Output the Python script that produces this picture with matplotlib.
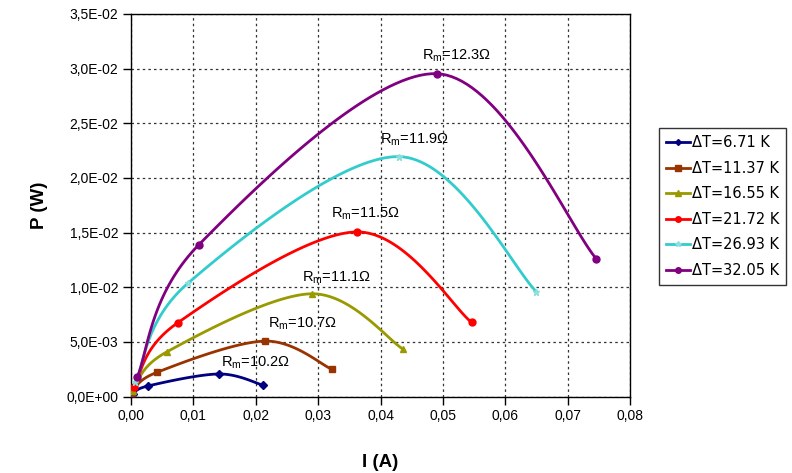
import numpy as np
import matplotlib
matplotlib.use("Agg")
import matplotlib.pyplot as plt
from matplotlib.ticker import FixedLocator

plt.rcParams['font.family'] = ['Liberation Sans', 'DejaVu Sans']

# Measured current I (A) and power P (W) for each temperature difference
I_671 = [0.0003, 0.0027, 0.0141, 0.0211]
P_671 = [0.00020, 0.00096, 0.00206, 0.00105]
I_1137 = [0.0001, 0.0042, 0.0215, 0.0322]
P_1137 = [0.00035, 0.00222, 0.00507, 0.00249]
I_1655 = [0.0003, 0.0058, 0.0290, 0.0436]
P_1655 = [0.00050, 0.00410, 0.00940, 0.00434]
I_2172 = [0.0005, 0.0075, 0.0363, 0.0546]
P_2172 = [0.00090, 0.00675, 0.01506, 0.00678]
I_2693 = [0.0007, 0.0092, 0.0430, 0.0650]
P_2693 = [0.00130, 0.01040, 0.02195, 0.00958]
I_3205 = [0.0010, 0.0109, 0.0490, 0.0746]
P_3205 = [0.00180, 0.01390, 0.02954, 0.01260]

series_labels = ["ΔT=6.71 K", "ΔT=11.37 K", "ΔT=16.55 K",
                 "ΔT=21.72 K", "ΔT=26.93 K", "ΔT=32.05 K"]
rm_labels = ["10.2", "10.7", "11.1", "11.5", "11.9", "12.3"]

x_ticks = [0.00, 0.01, 0.02, 0.03, 0.04, 0.05, 0.06, 0.07, 0.08]
x_tick_labels = ["0,00", "0,01", "0,02", "0,03", "0,04", "0,05", "0,06", "0,07", "0,08"]
y_ticks = [0.0, 0.005, 0.010, 0.015, 0.020, 0.025, 0.030, 0.035]
y_tick_labels = ["0,0E+00", "5,0E-03", "1,0E-02", "1,5E-02",
                 "2,0E-02", "2,5E-02", "3,0E-02", "3,5E-02"]

colors = ["#000080", "#993300", "#999900", "#FF0000", "#33CCCC", "#800080"]
markers = ["D", "s", "^", "o", "*", "o"]
msizes = [4, 5, 5, 5, 5, 5]


def smooth_curve(xs, ys, n=40):
    """Bezier smoothing through the points (cardinal spline, 1/6 tangents)."""
    p = np.column_stack([xs, ys]).astype(float)
    ext = np.vstack([p[0], p, p[-1]])
    out = []
    t = np.linspace(0, 1, n)[:, None]
    for i in range(len(p) - 1):
        p0, p1 = ext[i + 1], ext[i + 2]
        c1 = p0 + (ext[i + 2] - ext[i]) / 6.0
        c2 = p1 - (ext[i + 3] - ext[i + 1]) / 6.0
        seg = ((1 - t) ** 3) * p0 + 3 * ((1 - t) ** 2) * t * c1 \
            + 3 * (1 - t) * t ** 2 * c2 + t ** 3 * p1
        out.append(seg if i == 0 else seg[1:])
    c = np.vstack(out)
    return c[:, 0], c[:, 1]


fig = plt.figure(figsize=(7.92, 4.73), dpi=100)
ax = fig.add_axes([131 / 792, (473 - 396.5) / 473, (630 - 131) / 792, (396.5 - 14) / 473])

data = [(I_671, P_671), (I_1137, P_1137), (I_1655, P_1655),
        (I_2172, P_2172), (I_2693, P_2693), (I_3205, P_3205)]

handles = []
for (xs, ys), col, mk, ms, lab in zip(data, colors, markers, msizes, series_labels):
    sx, sy = smooth_curve(xs, ys)
    ax.plot(sx, sy, color=col, lw=2, solid_capstyle='round', zorder=3)
    if mk == "*":
        mfc, mec = "#99E6E6", "#88DDDD"
    else:
        mfc, mec = col, col
    ax.plot(xs, ys, ls='none', marker=mk, ms=ms, mfc=mfc, mec=mec, zorder=4)
    h, = ax.plot([], [], color=col, lw=2, marker=mk, ms=ms - 1, mfc=mfc, mec=mec)
    handles.append(h)

# Load resistance at the maximum-power point of each curve
rm_pos = [(256, 363), (303, 324), (337, 278), (366, 213), (415, 139), (457, 55)]
for (px, py), val in zip(rm_pos, rm_labels):
    xd = (px - 131) / 62.4 * 0.01
    yd = (396.5 - py) / 54.7 * 0.005
    ax.text(xd, yd, "R$_{\\mathregular{m}}$=" + val + "Ω", fontsize=10.5,
            ha='center', va='center', zorder=5)

ax.set_xlim(0, 0.08)
ax.set_ylim(0, 0.035)
ax.xaxis.set_major_locator(FixedLocator(x_ticks))
ax.yaxis.set_major_locator(FixedLocator(y_ticks))
ax.set_xticklabels(x_tick_labels, fontsize=10)
ax.set_yticklabels(y_tick_labels, fontsize=10)
ax.tick_params(direction='out', length=6, width=1, color='black', pad=3)

ax.grid(True, color='#333333', linestyle=(0, (2, 2.5)), linewidth=0.9, zorder=1)
ax.set_axisbelow(True)
for s in ax.spines.values():
    s.set_color('black')
    s.set_linewidth(1)

ax.set_xlabel("I (A)", fontsize=13.5, fontweight='bold', va='center')
ax.xaxis.set_label_coords(0.5, -(462 - 396.5) / 382.5)
ax.set_ylabel("P (W)", fontsize=13.5, fontweight='bold', va='center')
ax.yaxis.set_label_coords(-(131 - 40) / 499, 0.5)

leg = fig.legend(handles, series_labels, loc='upper left',
                 bbox_to_anchor=(659 / 792, 1 - 128 / 473),
                 prop={'family': ['DejaVu Sans'], 'size': 10.5},
                 frameon=True, fancybox=False,
                 edgecolor='black', handlelength=1.6, handletextpad=0.15,
                 labelspacing=0.72, borderpad=0.5, borderaxespad=0)
leg.get_frame().set_linewidth(1)

fig.savefig("out.png", dpi=100)
